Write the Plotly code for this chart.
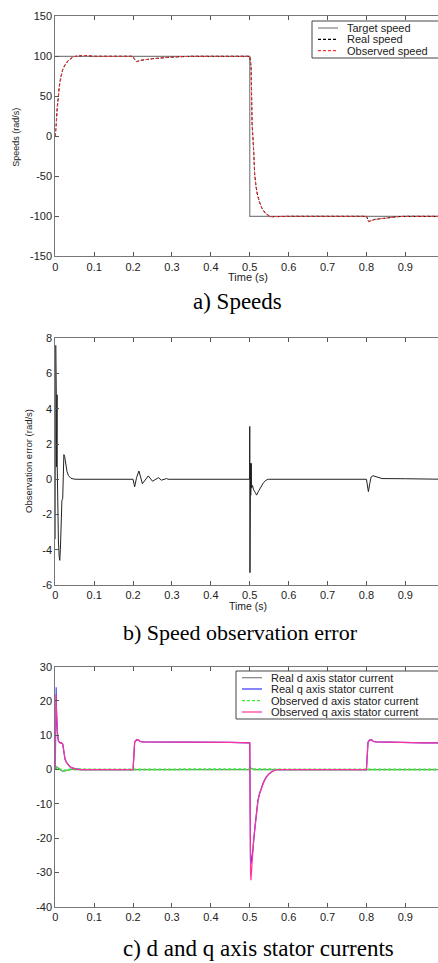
import plotly.graph_objects as go

W, H = 438, 963

# ---------------- data: a) Speeds ----------------
t_target = [0, 0.5, 0.5, 1.0]
target_speed = [100, 100, -100, -100]

t_speed = [0, 0.003, 0.005, 0.008, 0.010, 0.014, 0.019, 0.025, 0.034, 0.047, 0.06, 0.08, 0.1,
           0.2, 0.203, 0.209, 0.22, 0.25, 0.28, 0.3, 0.35, 0.5, 0.5035, 0.506, 0.510, 0.5125,
           0.516, 0.519, 0.525, 0.5316, 0.54, 0.553, 0.565, 0.6, 0.8, 0.803, 0.806, 0.82, 0.85,
           0.88, 0.9, 1.0]
real_speed = [0, 25, 37, 50, 62, 74, 83, 89, 95, 99.5, 100.5, 101, 100,
              100, 97, 93.5, 95, 97, 98.5, 99, 100, 100, 87, 16, -17, -46,
              -62, -71, -82, -90, -96, -100.5, -100.5, -100, -100, -104, -106.5, -104, -102,
              -100.5, -100, -100]
observed_speed = [0, 24, 36, 50, 61, 74, 84, 90, 95.5, 99.5, 100.5, 101, 100,
                  100, 96.5, 93, 95, 97, 98.5, 99.2, 100, 100, 86, 15, -18, -47,
                  -63, -72, -83, -90.5, -96.5, -100.5, -100.3, -100, -100, -104.5, -107, -104, -102,
                  -100.5, -100, -100]

# ---------------- data: b) Speed observation error ----------------
t_err = [0, 0.001, 0.002, 0.0025, 0.003, 0.0035, 0.004, 0.0045, 0.005, 0.006, 0.008, 0.010,
         0.0115, 0.013, 0.015, 0.017, 0.019, 0.020, 0.022, 0.024, 0.027, 0.030, 0.034, 0.040,
         0.048, 0.056,
         0.2, 0.204, 0.209, 0.215, 0.224, 0.239, 0.25, 0.265, 0.273, 0.286, 0.29,
         0.4995, 0.5, 0.5005, 0.501, 0.5015, 0.502, 0.5025, 0.503, 0.5035, 0.504, 0.5045, 0.507,
         0.510, 0.514, 0.5176, 0.522, 0.528, 0.535, 0.542, 0.548,
         0.8, 0.8025, 0.805, 0.8085, 0.812, 0.817, 0.828, 0.84, 0.9, 0.905, 0.906, 1.0]
obs_error = [-3.4, 7.6, 0.7, 4.8, 0.7, 4.8, 0.7, 4.8, 0.7, -1.0, -3.5, -4.4,
             -4.6, -4.0, -2.5, -1.2, -1.1, 0.6, 1.4, 1.3, 0.8, 0.45, 0.2, 0.06,
             0.01, 0,
             0, -0.43, 0.1, 0.47, -0.25, 0.19, -0.11, 0.09, -0.05, 0.04, 0,
             0, 3.0, -5.3, 0.9, -0.9, 0.9, -0.9, 0.9, -0.9, 0.9, -0.5, -0.35,
             -0.6, -0.75, -0.9, -0.7, -0.45, -0.2, -0.05, 0,
             0, -0.4, -0.7, -0.25, 0.13, 0.2, 0.13, 0.04, 0.03, 0.03, 0, 0]

# ---------------- data: c) d and q axis stator currents ----------------
t_q = [0, 0.001, 0.002, 0.003, 0.004, 0.005, 0.006, 0.008, 0.010, 0.013, 0.016, 0.019, 0.021,
       0.023, 0.025, 0.028, 0.032, 0.038, 0.045, 0.055, 0.065,
       0.2, 0.2015, 0.204, 0.207, 0.210, 0.214, 0.218, 0.225, 0.25, 0.3, 0.35, 0.4, 0.45, 0.5,
       0.5005, 0.501, 0.502, 0.503, 0.504, 0.506, 0.508, 0.510, 0.513, 0.516, 0.518, 0.521,
       0.525, 0.529, 0.535, 0.542, 0.550, 0.559, 0.57,
       0.8, 0.8015, 0.804, 0.807, 0.810, 0.814, 0.818, 0.825, 0.85, 0.9, 0.95, 1.0]
real_q = [0, 12, 24, 18, 14, 11, 10, 8.5, 8.0, 7.8, 7.8, 7.4, 6.0,
          4.0, 3.0, 2.2, 1.5, 0.8, 0.4, 0.15, 0,
          0, 4, 7.9, 8.4, 8.7, 8.6, 8.2, 8.1, 8.1, 8.0, 8.0, 7.9, 7.9, 7.8,
          -10, -22, -27, -27.5, -26, -25, -23.5, -20, -17, -14, -11, -9,
          -7, -5.5, -3.8, -2.2, -1.2, -0.5, 0,
          0, 4, 7.9, 8.4, 8.7, 8.6, 8.2, 8.1, 8.0, 7.9, 7.8, 7.8]
observed_q = [0, 22, 21, 17, 13.5, 11, 9.8, 8.3, 7.9, 7.7, 7.8, 7.5, 6.2,
              4.2, 3.1, 2.3, 1.5, 0.8, 0.4, 0.15, 0,
              0, 4.2, 8.0, 8.5, 8.8, 8.6, 8.2, 8.1, 8.1, 8.0, 8.0, 7.9, 7.9, 7.8,
              -12, -25, -30, -32.3, -30, -27, -24, -20.5, -17.5, -14.5, -11.5, -9.2,
              -7.2, -5.6, -3.9, -2.3, -1.2, -0.5, 0,
              0, 4.2, 8.0, 8.5, 8.8, 8.6, 8.2, 8.1, 8.0, 7.9, 7.8, 7.8]

t_d = [0, 0.003, 0.006, 0.010, 0.015, 0.020, 0.025, 0.030, 0.040, 0.050, 0.5, 0.502, 0.505, 0.51, 1.0]
real_d = [0, 0.8, 0.6, 0.2, -0.3, -0.5, -0.3, -0.1, 0.1, 0, 0, 0.5, 0.3, 0, 0]
t_dobs = [0, 0.004, 0.01, 0.02, 0.03, 0.05, 0.1, 0.2, 0.3, 0.4, 0.5, 0.52, 0.6, 0.7, 0.8, 0.9, 1.0]
observed_d = [0, 0.6, 0.3, -0.4, -0.1, 0.1, 0, 0.05, 0, 0.05, 0, 0.1, 0, 0.05, 0, 0.05, 0]

x_ticks = [0, 0.1, 0.2, 0.3, 0.4, 0.5, 0.6, 0.7, 0.8, 0.9]
x_tick_labels = ["0", "0.1", "0.2", "0.3", "0.4", "0.5", "0.6", "0.7", "0.8", "0.9"]
y1_ticks = [-150, -100, -50, 0, 50, 100, 150]
y1_labels = ["-150", "-100", "-50", "0", "50", "100", "150"]
y2_ticks = [-6, -4, -2, 0, 2, 4, 6, 8]
y2_labels = ["-6", "-4", "-2", "0", "2", "4", "6", "8"]
y3_ticks = [-40, -30, -20, -10, 0, 10, 20, 30]
y3_labels = ["-40", "-30", "-20", "-10", "0", "10", "20", "30"]

# ---------------- figure ----------------
def px(x):
    return x / W

def py(y):
    return 1 - y / H

GRAY = "#808080"
BLUE = "#3333ff"
GREEN = "#33ee33"
PINK = "#ff3399"
RED = "#ff3333"

fig = go.Figure()

speed_traces = [
    dict(name="Target speed", x=t_target, y=target_speed, color=GRAY, dash="solid", width=1.2),
    dict(name="Real speed", x=t_speed, y=real_speed, color="#000000", dash="3px,2px", width=1),
    dict(name="Observed speed", x=t_speed, y=observed_speed, color=RED, dash="3px,2px", width=1),
]
for tr in speed_traces:
    fig.add_trace(go.Scatter(x=tr["x"], y=tr["y"], name=tr["name"], mode="lines",
                             line=dict(color=tr["color"], dash=tr["dash"], width=tr["width"]),
                             xaxis="x", yaxis="y", showlegend=False))

fig.add_trace(go.Scatter(x=t_err, y=obs_error, name="Observation error", mode="lines",
                         line=dict(color="#222222", width=1), xaxis="x2", yaxis="y2",
                         showlegend=False))

current_traces = [
    dict(name="Real d axis stator current", x=t_d, y=real_d, color=GRAY, dash="solid", width=1.2),
    dict(name="Real q axis stator current", x=t_q, y=real_q, color=BLUE, dash="solid", width=1.2),
    dict(name="Observed d axis stator current", x=t_dobs, y=observed_d, color=GREEN, dash="3px,2px", width=2),
    dict(name="Observed q axis stator current", x=t_q, y=observed_q, color=PINK, dash="solid", width=1.2),
]
for tr in current_traces:
    fig.add_trace(go.Scatter(x=tr["x"], y=tr["y"], name=tr["name"], mode="lines",
                             line=dict(color=tr["color"], dash=tr["dash"], width=tr["width"]),
                             xaxis="x3", yaxis="y3", showlegend=False))

tickfont = dict(family="Liberation Sans, Arial", size=11, color="#222222")
xcommon = dict(range=[0, 0.984], domain=[px(55.3), 1], tickvals=x_ticks, ticktext=x_tick_labels,
               ticks="inside", ticklen=4, tickcolor="#555555", showline=True, linecolor="#777777",
               linewidth=1, mirror="ticks", showgrid=False, zeroline=False, tickfont=tickfont,
               automargin=False)
ycommon = dict(ticks="inside", ticklen=4, tickcolor="#555555", showline=True, linecolor="#777777",
               linewidth=1, mirror=False, showgrid=False, zeroline=False, tickfont=tickfont,
               automargin=False)

fig.update_layout(
    width=W, height=H,
    margin=dict(l=0, r=0, t=0, b=0, pad=0),
    paper_bgcolor="white", plot_bgcolor="white",
    showlegend=False,
    xaxis=dict(**xcommon, anchor="y"),
    xaxis2=dict(**xcommon, anchor="y2"),
    xaxis3=dict(**xcommon, anchor="y3"),
    yaxis=dict(**ycommon, domain=[py(256.3), py(16.3)], range=[-150, 150], tickvals=y1_ticks,
               ticktext=y1_labels, anchor="x"),
    yaxis2=dict(**ycommon, domain=[py(585), py(338.3)], range=[-6, 8], tickvals=y2_ticks,
                ticktext=y2_labels, anchor="x2"),
    yaxis3=dict(**ycommon, domain=[py(906.7), py(666.7)], range=[-40, 30], tickvals=y3_ticks,
                ticktext=y3_labels, anchor="x3"),
)

annotations = []
shapes = []
small = dict(family="Liberation Sans, Arial", size=11, color="#222222")
serif = dict(family="Liberation Serif, Times New Roman", color="black")

# axis titles
annotations.append(dict(text="Time (s)", x=px(248), y=py(277), xref="paper", yref="paper",
                        showarrow=False, font=small, xanchor="center", yanchor="middle"))
annotations.append(dict(text="Time (s)", x=px(248), y=py(606), xref="paper", yref="paper",
                        showarrow=False, font=dict(family="Liberation Sans, Arial", size=10.5, color="#222222"),
                        xanchor="center", yanchor="middle"))
annotations.append(dict(text="Speeds (rad/s)", x=px(15.7), y=py(137), xref="paper", yref="paper",
                        showarrow=False, textangle=-90,
                        font=dict(family="Liberation Sans, Arial", size=9, color="#222222"),
                        xanchor="center", yanchor="middle"))
annotations.append(dict(text="Observation error (rad/s)", x=px(28), y=py(461), xref="paper", yref="paper",
                        showarrow=False, textangle=-90,
                        font=dict(family="Liberation Sans, Arial", size=9.5, color="#222222"),
                        xanchor="center", yanchor="middle"))

# captions
annotations.append(dict(text="a) Speeds", x=px(237), y=py(302), xref="paper", yref="paper",
                        showarrow=False, font=dict(**serif, size=23), xanchor="center", yanchor="middle"))
annotations.append(dict(text="b) Speed observation error", x=px(240), y=py(632), xref="paper", yref="paper",
                        showarrow=False, font=dict(**serif, size=22), xanchor="center", yanchor="middle"))
annotations.append(dict(text="c) d and q axis stator currents", x=px(258), y=py(948), xref="paper", yref="paper",
                        showarrow=False, font=dict(**serif, size=23), xanchor="center", yanchor="middle"))

# custom legends
def legend(entries, box, rows_y, sample_x, text_x):
    x0, y0, x1, y1 = box
    shapes.append(dict(type="rect", xref="paper", yref="paper", x0=px(x0), x1=px(x1), y0=py(y1), y1=py(y0),
                       line=dict(color="#444444", width=1), fillcolor="white", layer="above"))
    for tr, yy in zip(entries, rows_y):
        shapes.append(dict(type="line", xref="paper", yref="paper", x0=px(sample_x[0]), x1=px(sample_x[1]),
                           y0=py(yy), y1=py(yy), layer="above",
                           line=dict(color=tr["color"], dash=tr["dash"], width=1.2)))
        annotations.append(dict(text=tr["name"], x=px(text_x), y=py(yy), xref="paper", yref="paper",
                                showarrow=False, font=small, xanchor="left", yanchor="middle"))

legend(speed_traces, (312, 21, 445, 58), [28, 39.3, 50.7], (318, 338), 345)
legend(current_traces, (236, 671, 445, 719), [677.7, 689, 700.7, 712], (242, 262), 269)

fig.update_layout(annotations=annotations, shapes=shapes)
fig.write_html("out.html", config={"displayModeBar": False},
               post_script="document.body.style.margin='0';document.body.style.padding='0';"
                           "document.documentElement.style.overflow='hidden';")
